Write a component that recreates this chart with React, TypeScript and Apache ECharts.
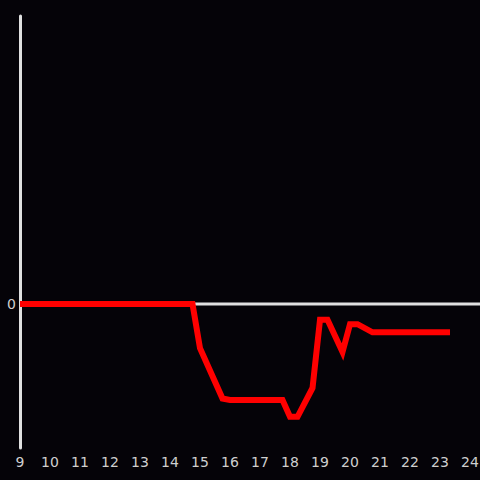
import React, { useEffect, useRef } from "react";
import * as echarts from "echarts";

const hours = [9, 14.75, 15, 15.75, 16, 17.75, 18, 18.25, 18.75, 19, 19.25, 19.75, 20, 20.25, 20.75, 23.333];
const values = [0, 0, -0.92, -1.97, -2, -2, -2.35, -2.35, -1.75, -0.33, -0.33, -1.0, -0.42, -0.42, -0.59, -0.59];
const baselineHours = [9, 24.333];
const baselineValues = [0, 0];
const xTicks = [9, 10, 11, 12, 13, 14, 15, 16, 17, 18, 19, 20, 21, 22, 23, 24];

export default function App() {
  const ref = useRef<HTMLDivElement>(null);
  useEffect(() => {
    document.body.style.margin = "0";
    const chart = echarts.init(ref.current!, undefined, { renderer: "svg" });
    chart.setOption({
      animation: false,
      backgroundColor: "#050308",
      textStyle: { fontFamily: "DejaVu Sans" },
      grid: { left: 20, right: 0, top: 16, bottom: 32, containLabel: false, outerBoundsMode: "none" },
      xAxis: {
        type: "value",
        min: 9,
        max: 24.333,
        interval: 1,
        axisLine: { show: false },
        axisTick: { show: false },
        splitLine: { show: false },
        axisLabel: {
          color: "#cfcfcf",
          fontSize: 14,
          fontFamily: "DejaVu Sans",
          margin: 7,
          hideOverlap: false,
          formatter: (v: number) => (xTicks.includes(v) ? String(v) : ""),
        },
      },
      yAxis: {
        type: "value",
        min: -3,
        max: 6,
        interval: 3,
        axisLine: { show: true, onZero: false, lineStyle: { color: "#e0e0e0", width: 3 } },
        axisTick: { show: false },
        splitLine: { show: false },
        axisLabel: {
          color: "#cfcfcf",
          fontSize: 14,
          fontFamily: "DejaVu Sans",
          margin: 4,
          formatter: (v: number) => (v === 0 ? "0" : ""),
        },
      },
      series: [
        {
          type: "line",
          z: 1,
          silent: true,
          symbol: "none",
          data: baselineHours.map((h, i) => [h, baselineValues[i]]),
          lineStyle: { color: "#e0e0e0", width: 3 },
        },
        {
          type: "line",
          z: 3,
          symbol: "none",
          data: hours.map((h, i) => [h, values[i]]),
          lineStyle: { color: "#ff0000", width: 6, cap: "butt", join: "miter" },
        },
      ],
    });
    return () => chart.dispose();
  }, []);
  return <div ref={ref} style={{ width: 480, height: 480 }} />;
}
